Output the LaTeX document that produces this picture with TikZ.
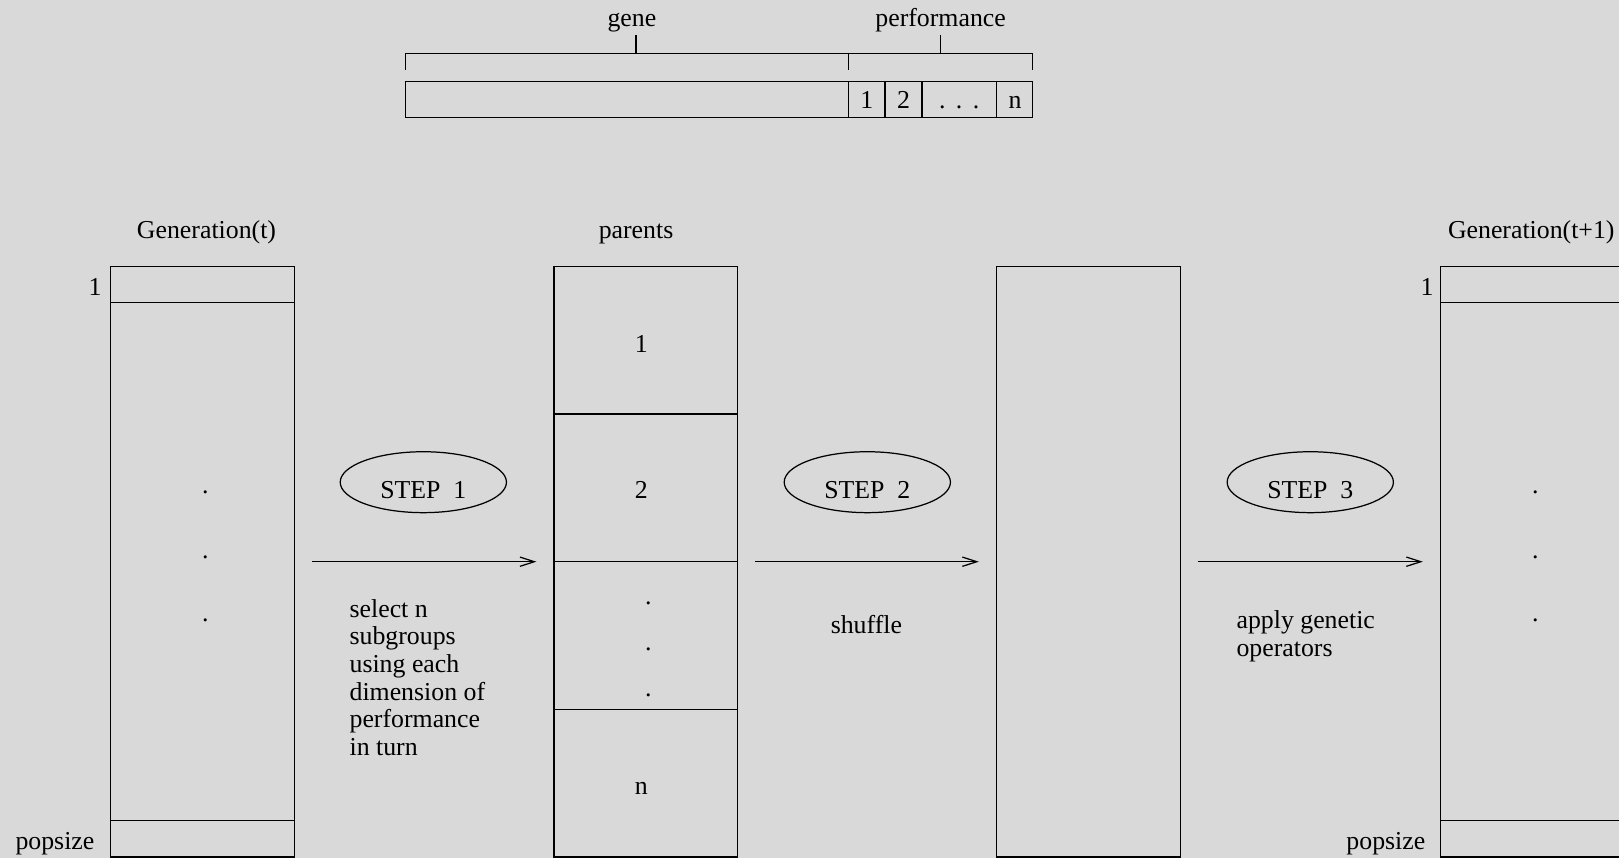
\documentclass[tikz,border=0pt]{standalone}
\usepackage{fontspec}
\setmainfont{Liberation Serif}
\usetikzlibrary{arrows.meta,shapes.geometric,positioning,calc}
\definecolor{paper}{RGB}{217,217,217}
\tikzset{
  txt/.style={font=\fontsize{12.5}{13.35}\selectfont, inner sep=0pt},
  popbox/.style={draw, minimum width=89pt, minimum height=286pt, inner sep=0pt, outer sep=0pt},
  stepoval/.style={draw, ellipse, minimum width=80.5pt, minimum height=29.5pt, inner sep=0pt},
  flow/.style={-{Straight Barb[length=7pt,width=4.5pt]}, shorten <=8.5pt, shorten >=8.5pt},
}
\begin{document}
\begin{tikzpicture}[x=0.5pt,y=-0.5pt,line width=0.6pt]
  \useasboundingbox[fill=paper] (0,0) rectangle (1568,831);
  % chromosome layout
  \draw (393,79) rectangle (1000,114);
  \foreach \x in {822,857,893,965} \draw (\x,79) -- (\x,114);
  \draw (393,68) -- (393,52) -- (1000,52) -- (1000,68);
  \draw (822,52) -- (822,68);
  \node[txt,anchor=base] (gene) at (612,26) {gene};
  \node[txt,anchor=base] (perf) at (911,26) {performance};
  \coordinate (gk) at (616,52);
  \coordinate (pk) at (911,52);
  \draw (gk) -- ++(0,-18);
  \draw (pk) -- ++(0,-18);
  \foreach \x/\t [count=\i] in {839.5/1,875/2,929/{.\hspace{0.4em}.\hspace{0.4em}.},983/n}
    \node[txt,anchor=base] (cell\i) at (\x,105) {\t};

  % population boxes
  \node[popbox] (gen) at (196,544) {};
  \node[popbox] (par) at (625.5,544) {};
  \node[popbox] (mix) at (1054,544) {};
  \node[popbox] (next) at (1484,544) {};
  \foreach \b in {gen,next} {
    \draw ([yshift=-17.5pt]\b.north west) -- ([yshift=-17.5pt]\b.north east);
    \draw ([yshift=17.5pt]\b.south west) -- ([yshift=17.5pt]\b.south east);
  }
  \foreach \k in {1,2,3}
    \draw ($(par.north west)!\k/4!(par.south west)$) -- ($(par.north east)!\k/4!(par.south east)$);

  \node[txt,anchor=base] (gentitle) at (200,231) {Generation(t)};
  \node[txt,anchor=base] (partitle) at (616,231) {parents};
  \node[txt,anchor=base] (nexttitle) at (1483,231) {Generation(t+1)};
  \node[txt,anchor=base east] (genfirst) at (99,286) {1};
  \node[txt,anchor=base east] (genlast) at (92,823) {popsize};
  \node[txt,anchor=base east] (nextfirst) at (1389,286) {1};
  \node[txt,anchor=base east] (nextlast) at (1381,823) {popsize};
  \foreach \y [count=\i] in {477,540,601} {
    \node[txt] (gdot\i) at (199,\y) {.};
    \node[txt] (ndot\i) at (1487,\y) {.};
  }
  \node[txt,anchor=base] (par1) at (621,341) {1};
  \node[txt,anchor=base] (par2) at (621,483) {2};
  \foreach \y [count=\i] in {584,629,673}
    \node[txt] (pdot\i) at (628,\y) {.};
  \node[txt,anchor=base] (parn) at (621,769) {n};

  % steps
  \foreach \x [count=\i] in {410,840,1269} {
    \node[stepoval] (s\i) at (\x,467) {};
    \node[txt] (s\i txt) at ([yshift=-4pt]s\i.center) {STEP\ \ \i};
  }
  \draw[flow] (gen) -- (par);
  \draw[flow] (par) -- (mix);
  \draw[flow] (mix) -- (next);
  \node[txt,align=left,anchor=north west] (note1) at (338,580)
    {select n\\subgroups\\using each\\dimension of\\performance\\in turn};
  \node[txt,anchor=base west] (note2) at (804,614) {shuffle};
  \node[txt,align=left,anchor=north west] (note3) at (1197,591) {apply genetic\\operators};
\end{tikzpicture}
\end{document}
